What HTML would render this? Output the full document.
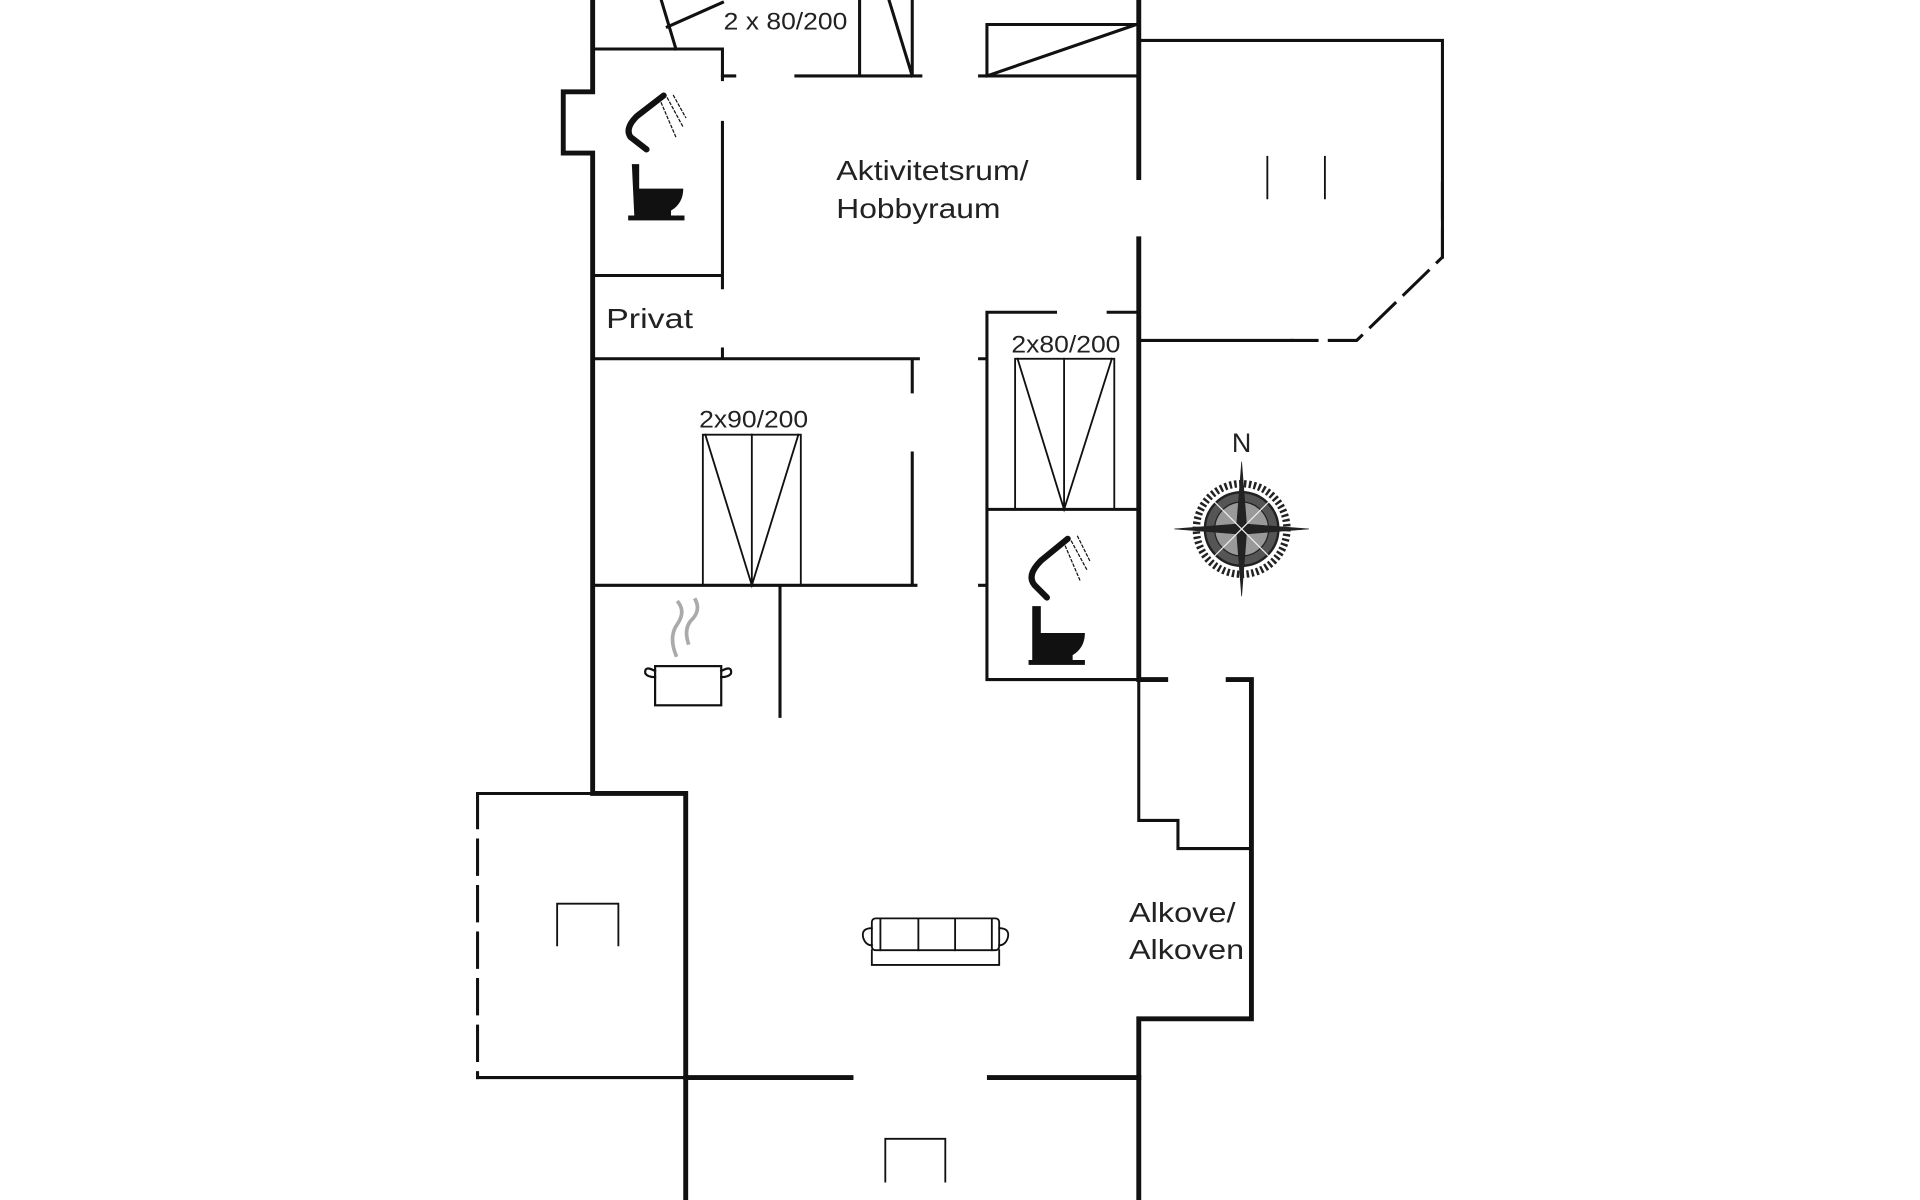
<!DOCTYPE html>
<html><head><meta charset="utf-8"><style>
html,body{margin:0;padding:0;background:#fff;}
svg{display:block;}
text{font-family:"Liberation Sans",sans-serif;fill:#222;}
</style></head><body>
<svg width="1920" height="1200" viewBox="0 0 1568 980" xmlns="http://www.w3.org/2000/svg">
<g stroke="#111" fill="none" stroke-linecap="square">
<g stroke-width="4">
<path d="M484 0V75H460V125H484V648H560V980"/>
<path d="M930 0V145M930 195V555H952M1003 555H1022V832H930V880H808M695 880H560"/>
<path d="M930 880V980"/>
</g>
<g stroke-width="2.5">
<path d="M484 40H590V65M590 100V235M484 225H590"/>
<path d="M590 62H600M650 62H752M800 62H928"/>
<path d="M540 0L552 40M545 22L590 2"/>
<path d="M702 0V62M745 0V62M726 0L745 62"/>
<path d="M806 62V20H928M806 62L928 20"/>
<path d="M930 33H1178V150M1178 210V150"/>
<path d="M930 278H1055"/>
<path d="M590 285V293M484 293H750M745 293V320M745 370V478M484 478H748M637 478V585"/>
<path d="M806 255V555H928M806 255H862M905 255H928M800 293H806M800 478H806M806 416H928"/>
<path d="M930 555V670H962V693H1020"/>
<path d="M390 648H484M390 880H560"/>
</g>
<g stroke-width="2.5" stroke-dasharray="28 10">
<path d="M1178 150V210L1108 278H1055"/>
<path d="M390 648V880"/>
</g>
<g stroke-width="1.5">
<rect x="574" y="355" width="80" height="123"/><path d="M614 355V478M576 355L614 478L652 355"/>
<rect x="829" y="293" width="81" height="123"/><path d="M869 293V416M831 293L869 416L908 293"/>
<path d="M1035 128V162M1082 128V162"/>
<path d="M455 772V738H505V772"/>
<path d="M723 965V930H772V965"/>
</g>
<g stroke-width="1.5">
<rect x="712" y="750" width="104" height="26" rx="3"/>
<path d="M719 750V776M750 750V776M780 750V776M810 750V776"/>
<path d="M712 758Q703 758 705 766Q707 772 712 772M816 758Q825 758 823 766Q821 772 816 772"/>
<path d="M712 776V788H816V776"/>
</g>
<g stroke-width="1.8">
<rect x="535" y="544" width="54" height="32"/>
<path d="M535 548Q526 543 527 550Q529 553 535 553M589 548Q598 543 597 550Q595 553 589 553"/>
</g>
<path d="M552 535Q546 520 553 510Q560 500 554 492M562 525Q558 512 566 505Q572 498 568 490" stroke="#aaa" stroke-width="3"/>
<g stroke-width="5" stroke-linecap="round">
<path d="M542 78L520 95Q510 105 515 112L528 122"/>
<path d="M872 440L850 458Q838 470 845 478L855 488"/>
</g>
<g stroke-width="1" stroke-dasharray="2 2">
<path d="M540 84L552 112M545 80L558 104M550 78L560 96"/>
<path d="M870 446L882 474M875 442L888 466M880 438L890 458"/>
</g>
</g>
<g fill="#111">
<path d="M516 134h6v20h36q0 12-10 18v4h-30z"/><rect x="513" y="176" width="46" height="4"/>
<path d="M843 495h7v22h36q0 12-10 18v4h-33z"/><rect x="840" y="539" width="46" height="4"/>
</g>
<g transform="translate(1014 432)" stroke="#222">
<circle r="37" fill="none" stroke-width="6" stroke-dasharray="2 2"/>
<circle r="30" fill="#555" stroke-width="2"/>
<circle r="22" fill="#999" stroke-width="1"/>
<path d="M0 -55L4 -4L0 0L-4 -4ZM0 55L4 4L0 0L-4 4ZM-55 0L-4 -4L0 0L-4 4ZM55 0L4 -4L0 0L4 4Z" fill="#222" stroke-width="0.5"/>
<path d="M-22 -22L22 22M22 -22L-22 22" stroke="#eee" stroke-width="1"/>
</g>
<text x="1014" y="369" font-family="Liberation Serif,serif" font-size="22" text-anchor="middle">N</text>
<g font-size="23">
<text x="683" y="147" textLength="157" lengthAdjust="spacingAndGlyphs">Aktivitetsrum/</text>
<text x="683" y="178" textLength="134" lengthAdjust="spacingAndGlyphs">Hobbyraum</text>
<text x="495" y="268" textLength="71" lengthAdjust="spacingAndGlyphs">Privat</text>
<text x="922" y="753" textLength="87" lengthAdjust="spacingAndGlyphs">Alkove/</text>
<text x="922" y="783" textLength="94" lengthAdjust="spacingAndGlyphs">Alkoven</text>
</g>
<g font-size="20">
<text x="591" y="24" textLength="101" lengthAdjust="spacingAndGlyphs">2 x 80/200</text>
<text x="571" y="349" textLength="89" lengthAdjust="spacingAndGlyphs">2x90/200</text>
<text x="826" y="288" textLength="89" lengthAdjust="spacingAndGlyphs">2x80/200</text>
</g>
</svg>
</body></html>
